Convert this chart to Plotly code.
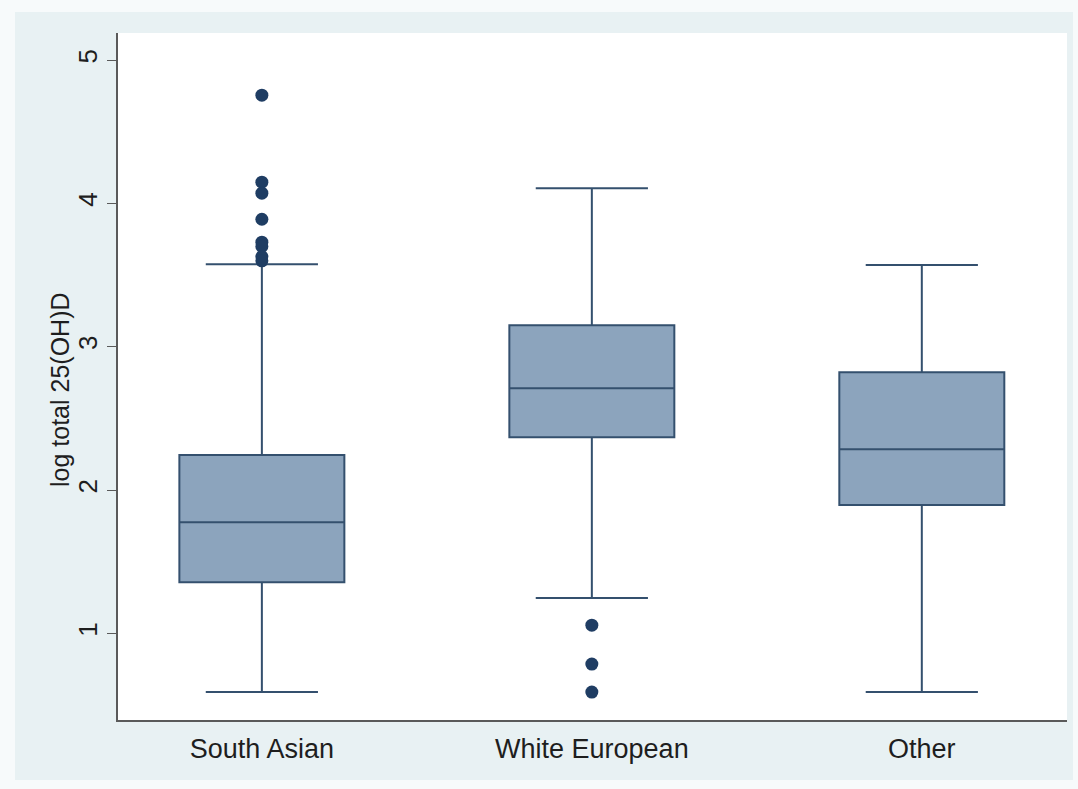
import plotly.graph_objects as go

# Box summaries per ethnic group (log total 25(OH)D)
groups = ["South Asian", "White European", "Other"]
q1 = [1.357, 2.369, 1.895]
median = [1.776, 2.711, 2.285]
q3 = [2.244, 3.151, 2.823]
lower_whisker = [0.59, 1.246, 0.59]
upper_whisker = [3.576, 4.107, 3.57]

# Points beyond the whiskers
outliers_south_asian = [4.756, 4.149, 4.072, 3.89, 3.73, 3.70, 3.63, 3.60]
outliers_white_european = [1.057, 0.785, 0.59]
outliers_other = []
outliers = [outliers_south_asian, outliers_white_european, outliers_other]

y_ticks = [1, 2, 3, 4, 5]

box_fill = "#8ca4bd"
box_line = "#34506e"
dot_color = "#1f3d63"

fig = go.Figure()

for i, g in enumerate(groups):
    fig.add_trace(go.Box(
        x=[g],
        q1=[q1[i]], median=[median[i]], q3=[q3[i]],
        lowerfence=[lower_whisker[i]], upperfence=[upper_whisker[i]],
        boxpoints=False,
        width=0.5,
        whiskerwidth=0.68,
        fillcolor=box_fill,
        line=dict(color=box_line, width=2),
        showlegend=False,
        hoverinfo="y",
    ))
    if outliers[i]:
        fig.add_trace(go.Scatter(
            x=[g] * len(outliers[i]), y=outliers[i],
            mode="markers",
            marker=dict(color=dot_color, size=13, line=dict(width=0)),
            showlegend=False,
        ))

# light outer frame behind the plot region
fig.add_shape(type="rect", xref="paper", yref="paper",
              x0=(15 - 118) / 949, x1=(1073 - 118) / 949,
              y0=-(780 - 720) / 687, y1=1 + (33 - 12) / 687,
              fillcolor="#e8f1f3", line=dict(width=0), layer="below")
fig.add_shape(type="rect", xref="paper", yref="paper",
              x0=0, x1=1, y0=0, y1=1,
              fillcolor="white", line=dict(width=0), layer="below")

# y-axis title
fig.add_annotation(text="log total 25(OH)D", xref="paper", yref="paper",
                   x=(60 - 118) / 949, y=(720 - 390) / 687,
                   xanchor="center", yanchor="middle", textangle=-90,
                   showarrow=False, font=dict(size=25, color="#1e1e1e"))

fig.update_layout(
    width=1078, height=789,
    margin=dict(l=118, r=11, t=33, b=69),
    paper_bgcolor="#f7fafb",
    plot_bgcolor="rgba(0,0,0,0)",
    font=dict(family="Liberation Sans, Arial, sans-serif", size=27, color="#1e1e1e"),
    xaxis=dict(
        type="category",
        range=[-0.436, 2.44],
        showgrid=False, zeroline=False,
        showline=True, linecolor="#5a5a5a", linewidth=1.5,
        ticks="", tickfont=dict(size=27), ticklabelstandoff=4,
    ),
    yaxis=dict(
        range=[0.395, 5.19],
        tickvals=y_ticks,
        tickangle=-90,
        showgrid=False, zeroline=False,
        showline=True, linecolor="#5a5a5a", linewidth=1.5,
        ticks="outside", ticklen=9, tickcolor="#5a5a5a",
        tickfont=dict(size=26),
    ),
)

fig.write_html("out.html")
